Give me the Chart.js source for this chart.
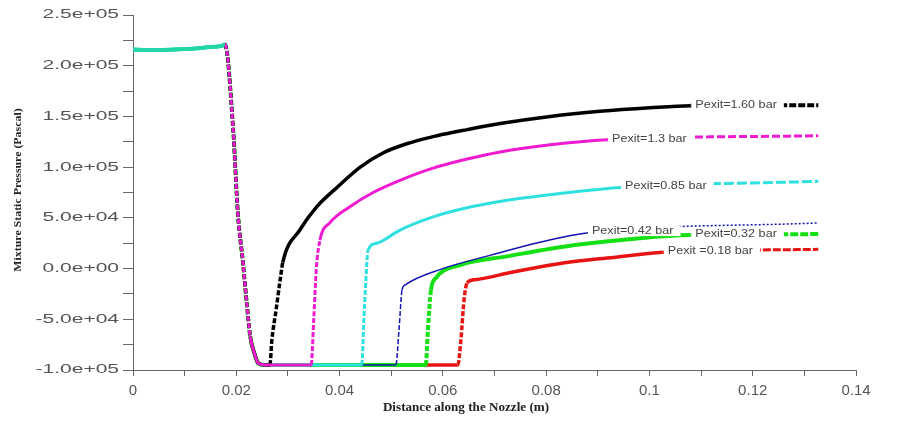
<!DOCTYPE html>
<html>
<head>
<meta charset="utf-8">
<script src="https://cdn.jsdelivr.net/npm/chart.js@4.4.1/dist/chart.umd.min.js"></script>
<style>
html, body { margin: 0; padding: 0; background: #fff; }
#wrap { position: relative; width: 908px; height: 425px; }
</style>
</head>
<body>
<div id="wrap"><canvas id="chart_nozzlePressure"></canvas></div>
<script>
// shared inlet part (same for every exit pressure), m / Pa
var inletX = [0, 0.004, 0.008, 0.012, 0.015, 0.0172, 0.0178, 0.0194, 0.0203, 0.0213, 0.0221, 0.0227, 0.0236, 0.0242];
var inletY = [216000, 215500, 216000, 217000, 218500, 219500, 221000, 137000, 55000, 5500, -38000, -67000, -85000, -93000];

// downstream part of each curve
var p160X = [0.0255, 0.0265, 0.0269, 0.0277, 0.0285, 0.029, 0.0323, 0.0356, 0.0395, 0.044, 0.0484, 0.0536, 0.0589, 0.0647, 0.0711, 0.0808, 0.0904, 0.1001, 0.1079, 0.1327];
var p160Y = [-95000, -95000, -70000, -41000, -11000, 6000, 38000, 61000, 80000, 100000, 114000, 124000, 131000, 137000, 143000, 150000, 155000, 158500, 160500, 161000];
var p130X = [0.0255, 0.0345, 0.035, 0.0355, 0.0362, 0.0381, 0.042, 0.0465, 0.0517, 0.0581, 0.0647, 0.0711, 0.0808, 0.0918, 0.1327];
var p130Y = [-95000, -95000, -50000, 0, 28000, 45000, 61000, 75000, 87000, 99000, 108000, 115000, 122000, 127000, 131000];
var p085X = [0.0255, 0.0443, 0.0447, 0.0451, 0.0455, 0.0472, 0.0517, 0.0581, 0.0647, 0.0755, 0.0852, 0.0943, 0.1327];
var p085Y = [-95000, -95000, -51000, -11000, 18000, 25000, 38000, 51000, 60000, 69500, 75500, 80000, 86000];
var p042X = [0.0255, 0.0509, 0.0515, 0.0521, 0.0527, 0.0594, 0.0691, 0.0788, 0.0879, 0.1327];
var p042Y = [-95000, -95000, -61000, -21000, -16000, -1000, 13000, 26000, 35000, 45000];
var p032X = [0.0255, 0.0567, 0.0571, 0.0577, 0.0587, 0.0633, 0.0724, 0.0852, 0.0982, 0.1079, 0.1327];
var p032Y = [-95000, -95000, -61000, -21000, -9000, 3500, 12000, 23000, 30000, 33000, 34000];
var p018X = [0.0255, 0.0629, 0.0635, 0.0641, 0.0647, 0.0662, 0.0736, 0.0833, 0.093, 0.1026, 0.1327];
var p018Y = [-95000, -95000, -70000, -31000, -14000, -11000, -3400, 5500, 11000, 16000, 19000];

var seriesLabels = ['Pexit=1.60 bar', 'Pexit=1.3 bar', 'Pexit=0.85 bar', 'Pexit=0.42 bar', 'Pexit=0.32 bar', 'Pexit =0.18 bar'];
var xTickLabels = ['0', '0.02', '0.04', '0.06', '0.08', '0.1', '0.12', '0.14'];
var yTickLabels = ['-1.0e+05', '-5.0e+04', '0.0e+00', '5.0e+04', '1.0e+05', '1.5e+05', '2.0e+05', '2.5e+05'];

var cornerIdx = inletY.indexOf(Math.max.apply(null, inletY));

function curve(xs, ys) {
    var ax = inletX.concat(xs), ay = inletY.concat(ys);
    return ax.map(function (x, i) { return { x: x, y: ay[i] }; });
}

// colour, width, end-sample dash, end-sample width, draw order (lower = on top)
var styles = [
    { c: '#000000', w: 3.5, dash: [7, 2], ew: 4, order: 1 },
    { c: '#f01ad0', w: 3, dash: [8, 3], ew: 3, order: 0 },
    { c: '#2fe0e0', w: 3, dash: [10, 3], ew: 3, order: 2 },
    { c: '#1414b4', w: 1.5, dash: [2, 2], ew: 1.5, order: 3 },
    { c: '#14e014', w: 4, dash: [8, 2], ew: 4, order: 4 },
    { c: '#e81414', w: 3.5, dash: [8, 2], ew: 3, order: 5 }
];
var curves = [[p160X, p160Y], [p130X, p130Y], [p085X, p085Y], [p042X, p042Y], [p032X, p032Y], [p018X, p018Y]];

var datasets = curves.map(function (cv, k) {
    var s = styles[k];
    var data = curve(cv[0], cv[1]);
    return {
        label: seriesLabels[k],
        data: data,
        order: s.order,
        borderColor: s.c,
        borderWidth: s.w,
        pointRadius: 0,
        fill: false,
        cubicInterpolationMode: 'monotone',
        segment: {
            borderColor: function (ctx) { return ctx.p1DataIndex <= cornerIdx ? '#22d6a8' : undefined; },
            borderDash: function (ctx) {
                if (ctx.p1DataIndex === data.length - 1) return s.dash;
                var dx = ctx.p1.parsed.x - ctx.p0.parsed.x, dy = ctx.p1.parsed.y - ctx.p0.parsed.y;
                return Math.abs(dy / dx) > 2.5e7 ? [5, 2] : undefined;
            },
            borderWidth: function (ctx) { return ctx.p1DataIndex === data.length - 1 ? s.ew : undefined; }
        }
    };
});

function stretchText(ctx, text, x, y, sx, align) {
    ctx.save();
    ctx.translate(x, y);
    ctx.scale(sx, 1);
    ctx.textAlign = align;
    ctx.textBaseline = 'middle';
    ctx.fillText(text, 0, 0);
    ctx.restore();
}

var chart_nozzlePressure = new Chart(document.getElementById('chart_nozzlePressure'), {
    type: 'line',
    data: { datasets: datasets },
    options: {
        animation: false,
        responsive: true,
        maintainAspectRatio: false,
        layout: { padding: { left: 0, right: 52, top: 15, bottom: 0 } },
        plugins: {
            legend: { display: false },
            tooltip: { enabled: false }
        },
        scales: {
            x: {
                type: 'linear',
                min: 0,
                max: 0.14,
                afterFit: function (scale) { scale.height = 55; },
                grid: { drawOnChartArea: false, tickLength: 6, color: '#666' },
                border: { color: '#666', width: 1 },
                ticks: {
                    stepSize: 0.01,
                    autoSkip: false,
                    maxRotation: 0,
                    padding: 6,
                    color: '#555',
                    font: { family: 'Liberation Sans', size: 15 },
                    callback: function (v, i) { return i % 2 === 0 ? xTickLabels[i / 2] : ''; }
                }
            },
            y: {
                type: 'linear',
                min: -100000,
                max: 250000,
                afterFit: function (scale) { scale.width = 133; },
                grid: { drawOnChartArea: false, tickLength: 10, color: '#666' },
                border: { color: '#666', width: 1 },
                ticks: { stepSize: 25000, display: false }
            }
        }
    },
    plugins: [{
        id: 'paperLook',
        beforeDraw: function (chart) {
            var ctx = chart.ctx;
            ctx.save();
            ctx.fillStyle = 'white';
            ctx.fillRect(0, 0, chart.width, chart.height);
            ctx.restore();
        },
        afterDatasetsDraw: function (chart) {
            var ctx = chart.ctx;
            ctx.save();
            ctx.font = '10px "Liberation Sans"';
            chart.data.datasets.forEach(function (ds, k) {
                var pts = chart.getDatasetMeta(k).data;
                var a = pts[pts.length - 2], b = pts[pts.length - 1];
                var w = ctx.measureText(ds.label).width * 1.26;
                var x0 = a.x + 5;
                var xc = x0 + w / 2;
                var yc = a.y + (b.y - a.y) * (xc - a.x) / (b.x - a.x);
                ctx.fillStyle = '#fff';
                ctx.fillRect(a.x + 1, yc - 5, w + 11, 10);
                ctx.fillStyle = '#444';
                stretchText(ctx, ds.label, x0, yc, 1.26, 'left');
            });
            ctx.restore();
        },
        afterDraw: function (chart) {
            var ctx = chart.ctx, ys = chart.scales.y, area = chart.chartArea;
            ctx.save();
            ctx.fillStyle = '#555';
            ctx.font = '12.5px "Liberation Sans"';
            ys.ticks.forEach(function (t, i) {
                if (i % 2) return;
                stretchText(ctx, yTickLabels[i / 2], area.left - 14, ys.getPixelForValue(t.value), 1.68, 'right');
            });
            ctx.fillStyle = '#222';
            ctx.font = 'bold 12.5px "Liberation Serif"';
            stretchText(ctx, 'Distance along the Nozzle (m)', 466, 408, 1.05, 'center');
            ctx.translate(18, 190);
            ctx.rotate(-Math.PI / 2);
            ctx.font = 'bold 11px "Liberation Serif"';
            stretchText(ctx, 'Mixture Static Pressure (Pascal)', 0, 0, 1.08, 'center');
            ctx.restore();
        }
    }]
});
</script>
</body>
</html>
